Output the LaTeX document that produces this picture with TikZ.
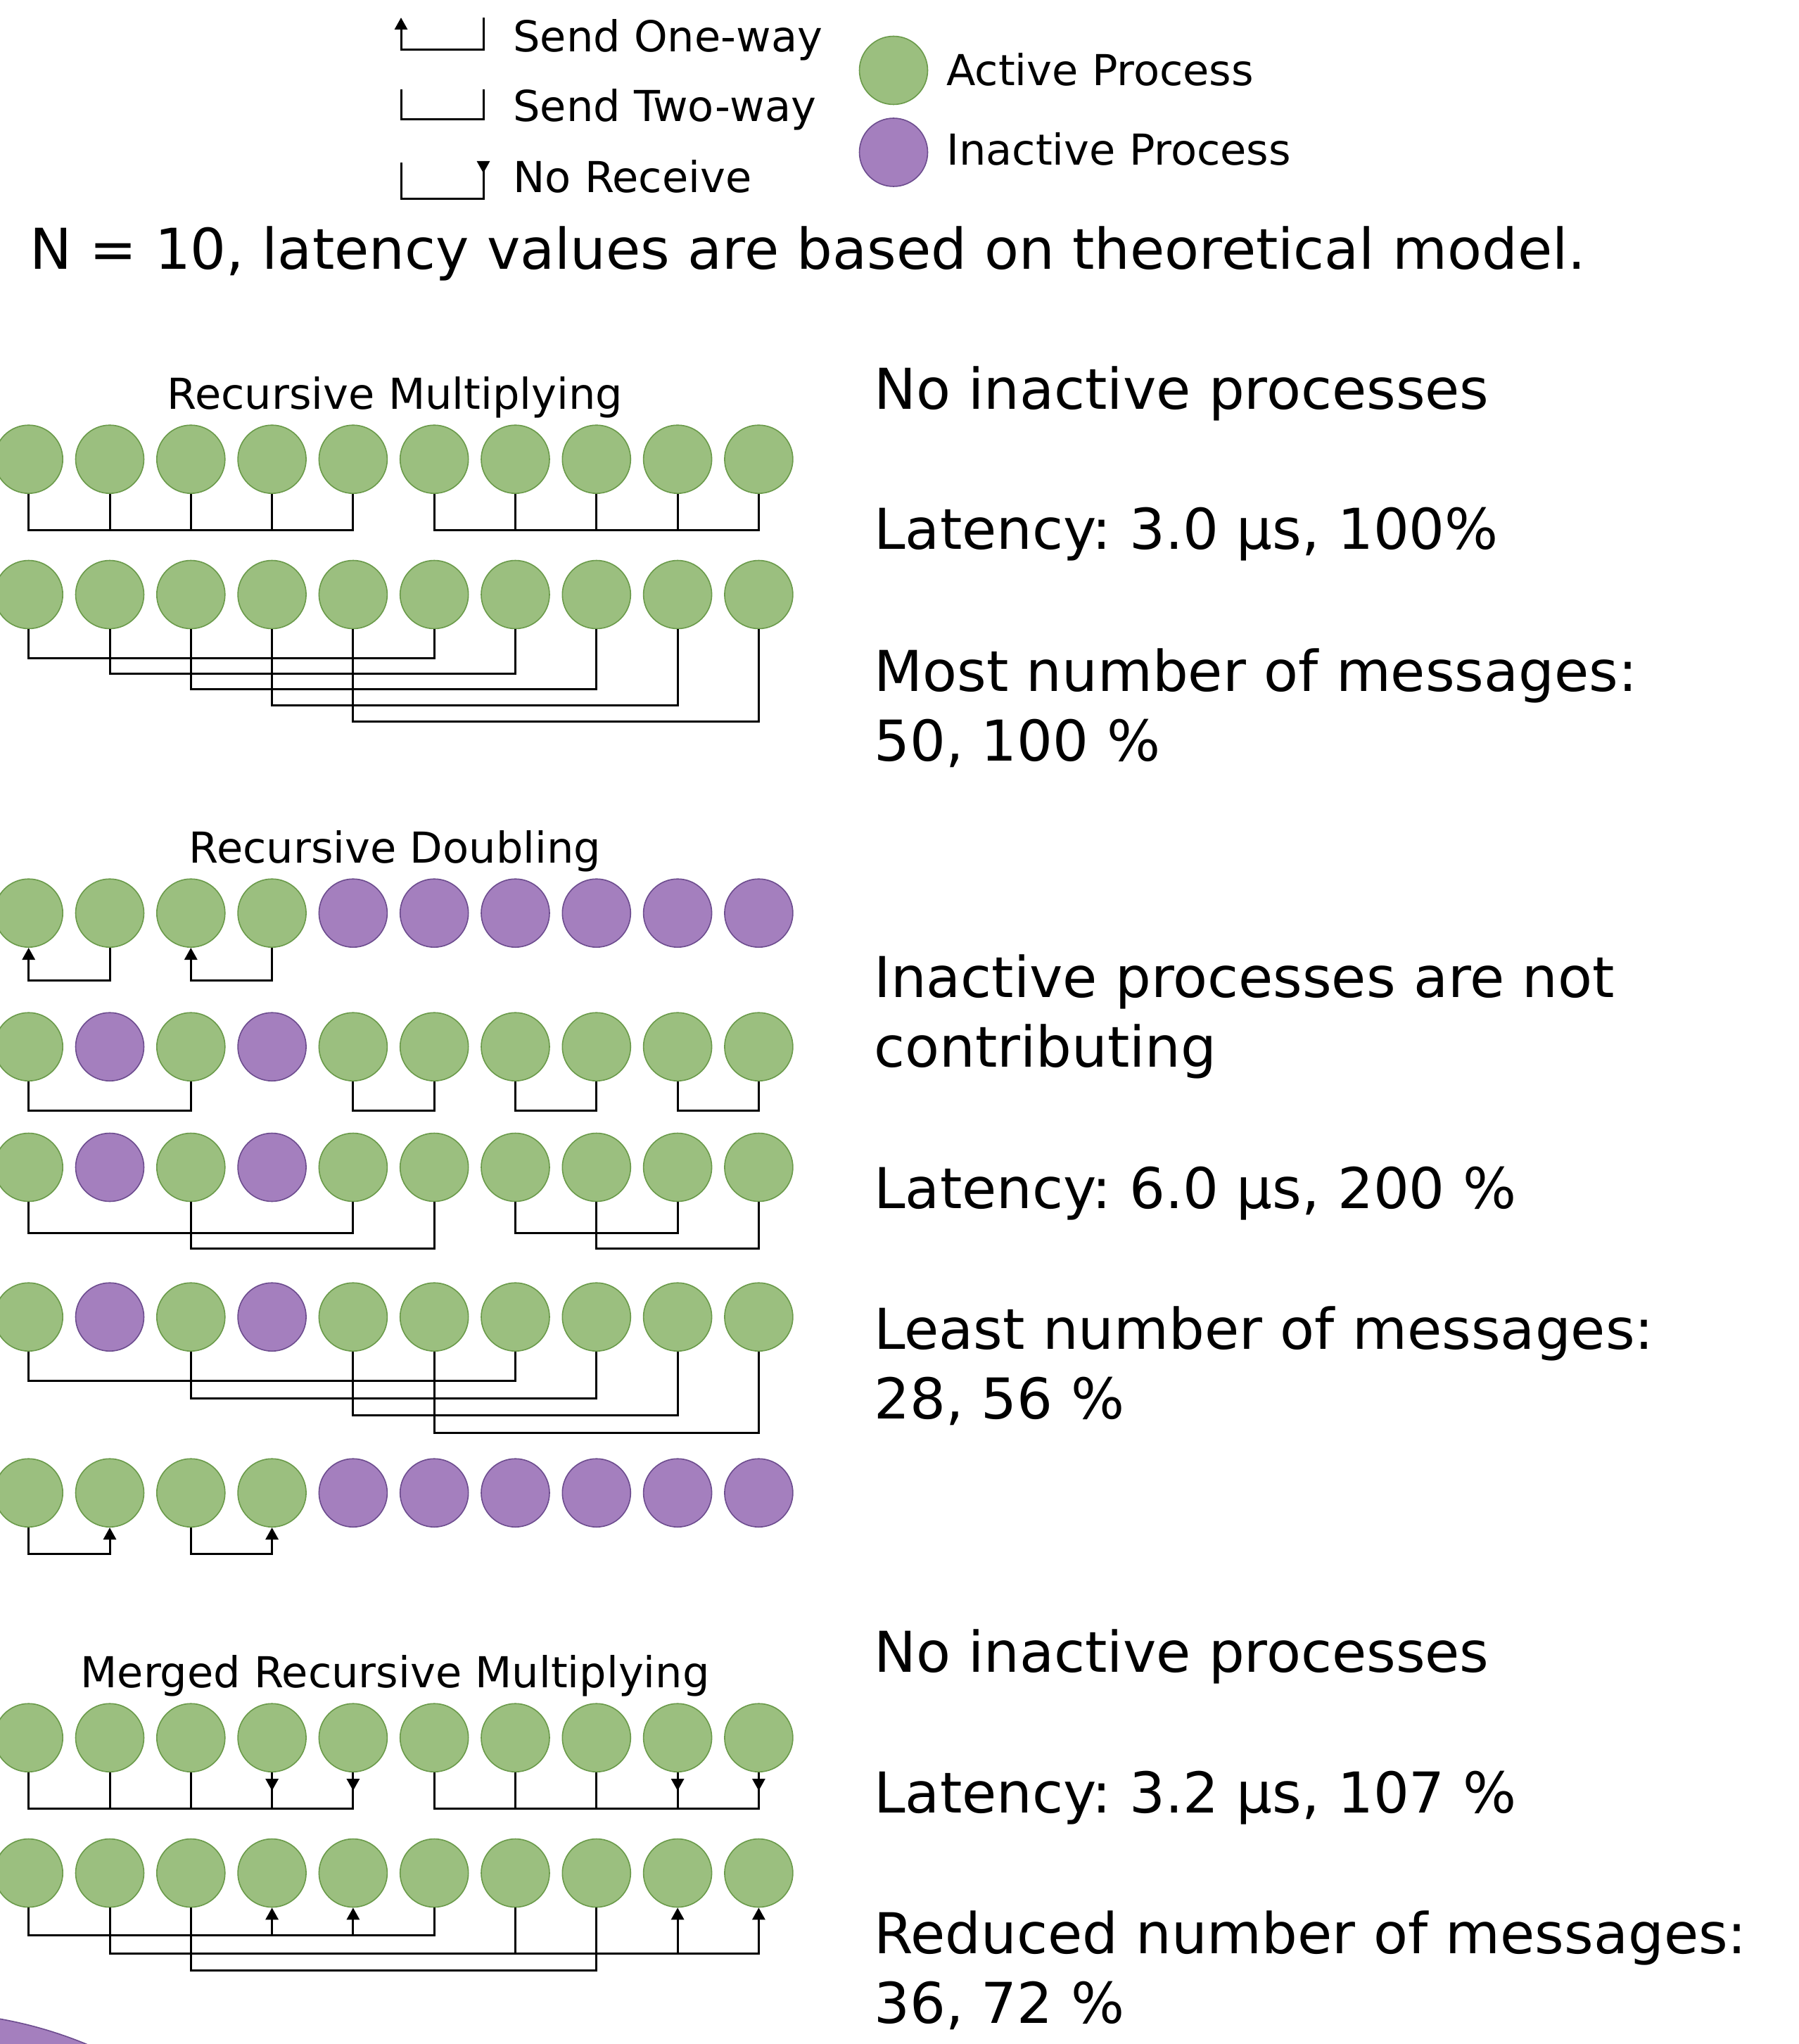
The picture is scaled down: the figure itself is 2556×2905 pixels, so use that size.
\documentclass[tikz,border=0pt]{standalone}
\usepackage{fontspec}
\setmainfont{DejaVu Sans}
\usetikzlibrary{arrows.meta}
\definecolor{actfill}{HTML}{9BBF7F}
\definecolor{actline}{HTML}{6A9A4A}
\definecolor{inafill}{HTML}{A47FBE}
\definecolor{inaline}{HTML}{6C4C8E}
\frenchspacing

\begin{document}
\begin{tikzpicture}[x=0.5pt, y=-0.5pt,
    act/.style={circle, draw=actline, fill=actfill, line width=0.8pt, minimum size=48.5pt, inner sep=0pt},
    ina/.style={act, draw=inaline, fill=inafill},
    link/.style={line width=1.5pt},
    tipup/.style={-{Triangle[width=9pt, length=8.5pt]}},
    lbl/.style={inner sep=0pt, anchor=base west, font=\fontsize{30.3}{36}\selectfont},
    ttl/.style={lbl, anchor=base},
    note/.style={inner sep=0pt, anchor=base west, font=\fontsize{40}{48}\selectfont}]
  \useasboundingbox (0,0) rectangle (2556,2905);

  % Legend:
  \coordinate (ow-l) at (570,25);  \coordinate (ow-r) at (687,25);
  \coordinate (tw-l) at (570,127); \coordinate (tw-r) at (687,127);
  \coordinate (nr-l) at (570,231); \coordinate (nr-r) at (687,229);
  \draw[link, tipup] (ow-r) -- ++(0,46) -| (ow-l);
  \draw[link] (tw-r) -- ++(0,43) -| (tw-l);
  \draw[link] (nr-r) -- ++(0,54) -| (nr-l);
  \draw[link, tipup] (nr-r) -- ++(0,17);
  \node[lbl] (ow-txt) at (729,74) {Send One-way};
  \node[lbl] (tw-txt) at (729,173) {Send Two-way};
  \node[lbl] (nr-txt) at (729,274) {No Receive};
  \node[act] (lg-act) at (1270,100) {};
  \node[ina] (lg-ina) at (1270,216.5) {};
  \node[lbl] (lg-act-txt) at (1345,122) {Active Process};
  \node[lbl] (lg-ina-txt) at (1345,235) {Inactive Process};
  \node[note] (hdr) at (42,383)
    {N = 10, latency values are based on theoretical model.};

  % Recursive Multiplying:
  \node[ttl] (rm-ttl) at (561.5,581) {Recursive Multiplying};
  \foreach \i in {0,...,9} {
    \node[act] (rma\i) at ({40.7+115.3*\i}, 652.7) {};
    \node[act] (rmb\i) at ({40.7+115.3*\i}, 845) {};
  }
  \draw[link] (rma0.south) -- ++(0,51.5) -| (rma4.south);
  \draw[link] (rma5.south) -- ++(0,51.5) -| (rma9.south);
  \foreach \i in {1,2,3,6,7,8} \draw[link] (rma\i.south) -- ++(0,51.5);
  \foreach \i/\d in {0/41.5,1/63.5,2/85.5,3/108.5,4/131.5} {
    \pgfmathtruncatemacro\j{\i+5}
    \draw[link] (rmb\i.south) -- ++(0,\d) -| (rmb\j.south);
  }
  \node[note] (rm-n1) at (1242,581) {No inactive processes};
  \node[note] (rm-n2) at (1242,780) {Latency: 3.0 μs, 100\%};
  \node[note] (rm-n3) at (1242,982) {Most number of messages:};
  \node[note] (rm-n4) at (1242,1081) {50, 100 \%};

  % Recursive Doubling:
  \node[ttl] (rd-ttl) at (561.5,1226) {Recursive Doubling};
  \foreach \s [count=\i from 0] in {act,act,act,act,ina,ina,ina,ina,ina,ina} {
    \node[\s] (rda\i) at ({40.7+115.3*\i}, 1297.7) {};
    \node[\s] (rde\i) at ({40.7+115.3*\i}, 2121.7) {};
  }
  \foreach \s [count=\i from 0] in {act,ina,act,ina,act,act,act,act,act,act} {
    \node[\s] (rdb\i) at ({40.7+115.3*\i}, 1487.7) {};
    \node[\s] (rdc\i) at ({40.7+115.3*\i}, 1659) {};
    \node[\s] (rdd\i) at ({40.7+115.3*\i}, 1871.7) {};
  }
  \draw[link, tipup] (rda1.south) -- ++(0,46.8) -| (rda0.south);
  \draw[link, tipup] (rda3.south) -- ++(0,46.8) -| (rda2.south);
  \foreach \a/\b in {0/2,4/5,6/7,8/9}
    \draw[link] (rdb\a.south) -- ++(0,41.8) -| (rdb\b.south);
  \foreach \a/\b/\d in {0/4/44.5,2/5/66.5,6/8/44.5,7/9/66.5}
    \draw[link] (rdc\a.south) -- ++(0,\d) -| (rdc\b.south);
  \foreach \a/\b/\d in {0/6/41.5,2/7/66,4/8/90,5/9/115}
    \draw[link] (rdd\a.south) -- ++(0,\d) -| (rdd\b.south);
  \draw[link, tipup] (rde0.south) -- ++(0,37.8) -| (rde1.south);
  \draw[link, tipup] (rde2.south) -- ++(0,37.8) -| (rde3.south);
  \node[note] (rd-n1) at (1242,1417) {Inactive processes are not};
  \node[note] (rd-n2) at (1242,1516) {contributing};
  \node[note] (rd-n3) at (1242,1717) {Latency: 6.0 μs, 200 \%};
  \node[note] (rd-n4) at (1242,1917) {Least number of messages:};
  \node[note] (rd-n5) at (1242,2016) {28, 56 \%};

  % Merged Recursive Multiplying:
  \node[ttl] (mr-ttl) at (561.5,2398) {Merged Recursive Multiplying};
  \foreach \i in {0,...,9} {
    \node[act] (mra\i) at ({40.7+115.3*\i}, 2469.7) {};
    \node[act] (mrb\i) at ({40.7+115.3*\i}, 2662) {};
  }
  \draw[link] (mra0.south) -- ++(0,51.8) -| (mra4.south);
  \draw[link] (mra5.south) -- ++(0,51.8) -| (mra9.south);
  \foreach \i in {1,2,3,6,7,8} \draw[link] (mra\i.south) -- ++(0,51.8);
  \foreach \i in {3,4,8,9} \draw[link, tipup] (mra\i.south) -- ++(0,26);
  \draw[link] (mrb0.south) -- ++(0,39.5) -| (mrb5.south);
  \draw[link, tipup] (mrb1.south) -- ++(0,65) -| (mrb9.south);
  \draw[link] (mrb2.south) -- ++(0,89.5) -| (mrb7.south);
  \draw[link] (mrb6.south) -- ++(0,65);
  \foreach \i in {3,4} \draw[link, tipup] (mrb\i.south) ++(0,39.5) -- (mrb\i.south);
  \draw[link, tipup] (mrb8.south) ++(0,65) -- (mrb8.south);
  \node[note] (mr-n1) at (1242,2376) {No inactive processes};
  \node[note] (mr-n2) at (1242,2576) {Latency: 3.2 μs, 107 \%};
  \node[note] (mr-n3) at (1242,2776) {Reduced number of messages:};
  \node[note] (mr-n4) at (1242,2875) {36, 72 \%};

  % cut-off shape, lower left corner
  \begin{scope}
    \clip (0,0) rectangle (2556,2905);
    \filldraw[fill=inafill, draw=inaline, line width=0.8pt] (-106,3460) circle[radius=300pt];
  \end{scope}
\end{tikzpicture}
\end{document}
